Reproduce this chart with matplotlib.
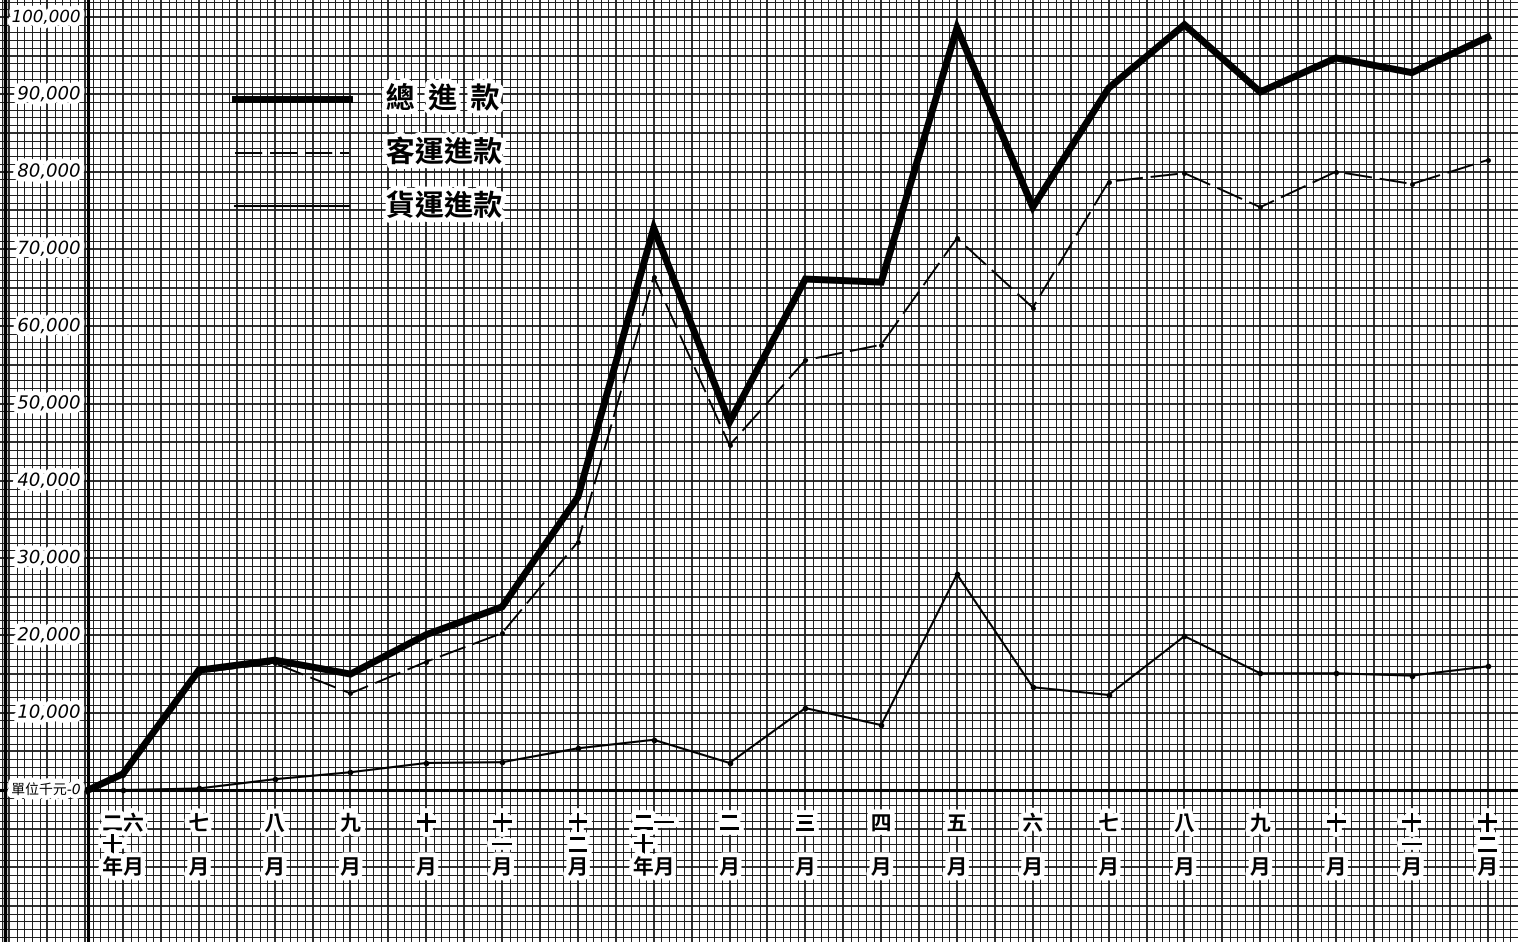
import numpy as np
import matplotlib
matplotlib.use('Agg')
import matplotlib.pyplot as plt
import matplotlib.patheffects as pe

plt.rcParams['font.family'] = ['Noto Sans CJK TC', 'DejaVu Sans']

# month labels (民國二十年六月 - 二十一年十二月), written vertically
months = ['二六\n十　\n年月', '七\n　\n月', '八\n　\n月', '九\n　\n月', '十\n　\n月',
          '十\n一\n月', '十\n二\n月', '二一\n十　\n年月', '二\n　\n月', '三\n　\n月',
          '四\n　\n月', '五\n　\n月', '六\n　\n月', '七\n　\n月', '八\n　\n月',
          '九\n　\n月', '十\n　\n月', '十\n一\n月', '十\n二\n月']

# values
total = [2100, 15500, 16800, 15000, 20100, 23700, 37900, 72700, 47600, 66100,
         65700, 98600, 75400, 90800, 99000, 90300, 94700, 92800, 97400]
passenger = [2000, 15200, 16400, 12500, 16600, 20300, 32100, 66400, 44600, 55600,
             57600, 71400, 62400, 78700, 79800, 75400, 80000, 78400, 81500]
freight = [0, 200, 1400, 2300, 3500, 3600, 5400, 6500, 3500, 10600,
           8400, 27900, 13300, 12300, 19900, 15100, 15100, 14800, 16000]

y_ticks = [0, 10000, 20000, 30000, 40000, 50000, 60000, 70000, 80000, 90000, 100000]
y_labels = ['單位千元-0', '10,000', '20,000', '30,000', '40,000', '50,000',
            '60,000', '70,000', '80,000', '90,000', '100,000']

legend_names = ['總  進  款', '客運進款', '貨運進款']

fig = plt.figure(figsize=(15.18, 9.42), dpi=100)
ax = fig.add_axes([0, 0, 1, 1])
ax.set_xlim(-1.623, 18.40)
ax.set_ylim(-19660, 102200)

# graph paper
x_min = np.arange(-1.6, 18.45, 0.1)
y_min = np.arange(-19000, 102001, 1000)
for xv in x_min:
    major = abs(round(xv * 10) % 5) == 0
    ax.axvline(xv, color='#1a1a1a', lw=1.3 if major else 0.7, zorder=0)
for yv in y_min:
    major = (yv % 5000) == 0
    ax.axhline(yv, color='#1a1a1a', lw=1.3 if major else 0.7, zorder=0)

x0 = -0.46  # y axis position
ax.axvline(x0, color='black', lw=2.2, zorder=1)
ax.axhline(0, color='black', lw=2.2, zorder=1)
ax.axvline(-1.56, color='black', lw=2.5, zorder=1)

x = np.arange(len(months))
xs = np.r_[x0, x]

ax.plot(xs, np.r_[0, total], color='black', lw=5, solid_joinstyle='miter', zorder=4)
ax.plot(xs, np.r_[0, passenger], color='black', lw=1.4, dashes=(14, 4), zorder=3)
ax.plot(xs, np.r_[0, freight], color='black', lw=1.5, zorder=3)
ax.plot(x, freight, 'o', color='black', ms=3, zorder=3)
ax.plot(x, passenger, 'o', color='black', ms=2.5, zorder=3)

halo = [pe.withStroke(linewidth=7, foreground='white')]

for yv, lab in zip(y_ticks, y_labels):
    fs = 10 if yv == 0 else (12 if yv == 100000 else 13)
    ax.text(-0.56, yv, lab, ha='right', va='center', fontsize=fs, style='italic',
            family=['DejaVu Sans', 'Noto Sans CJK TC'], path_effects=halo, zorder=5)

for xv, lab in zip(x, months):
    ax.text(xv, -3000, lab, ha='center', va='top', fontsize=15, linespacing=1.05,
            fontweight='bold', path_effects=halo, zorder=5)

# legend
leg_styles = [dict(lw=5), dict(lw=1.4, dashes=(14, 4)), dict(lw=1.5)]
for k, (name, st) in enumerate(zip(legend_names, leg_styles)):
    yy = 0.895 - k * 0.057
    ax.plot([0.155, 0.23], [yy, yy], color='black', transform=ax.transAxes, zorder=4, **st)
    ax.text(0.254, yy, name, transform=ax.transAxes, ha='left', va='center',
            fontsize=21, fontweight='bold', path_effects=halo, zorder=5)

ax.set_xticks([])
ax.set_yticks([])
for s in ax.spines.values():
    s.set_visible(False)

fig.savefig('out.png', dpi=100)
